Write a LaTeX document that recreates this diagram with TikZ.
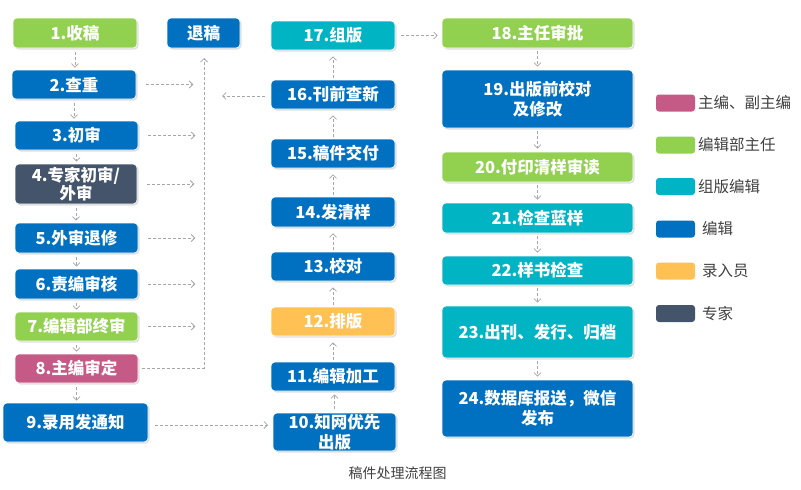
\documentclass[tikz,border=0pt]{standalone}
\usepackage{fontspec}
\setmainfont{Noto Sans CJK SC}
\usetikzlibrary{arrows.meta,shadows}
\definecolor{cgreen}{HTML}{92D050}
\definecolor{cblue}{HTML}{0070C0}
\definecolor{cteal}{HTML}{00B4C4}
\definecolor{cdark}{HTML}{44546A}
\definecolor{cpink}{HTML}{C55A86}
\definecolor{corange}{HTML}{FFC054}
\definecolor{cline}{HTML}{A6A6A6}
\definecolor{ctext}{HTML}{404040}
\tikzset{
  box/.style={rounded corners=4pt, inner sep=0pt, align=center, text=white,
    font=\fontsize{16.5}{20}\selectfont\bfseries, draw=white, line width=0.6pt,
    drop shadow={opacity=0.25, shadow xshift=1.5pt, shadow yshift=-1.5pt}},
  flow/.style={draw=cline, line width=0.8pt, dash pattern=on 3pt off 2pt,
    -{Straight Barb[length=3.5pt,width=7pt]}},
  swatch/.style={rounded corners=3pt, minimum width=39pt, minimum height=17pt, inner sep=0pt},
  legtext/.style={anchor=west, inner sep=0pt, text=ctext, font=\fontsize{15.5}{17}\selectfont},
}
\begin{document}
\begin{tikzpicture}[x=1pt,y=-1pt]
\useasboundingbox (0,0) rectangle (801,490);
% left column
\node[box, fill=cgreen, minimum width=124pt, minimum height=30pt] (n1) at (75,33) {1.收稿};
\node[box, fill=cblue, minimum width=73pt, minimum height=30pt] (tg) at (203.5,33) {退稿};
\node[box, fill=cblue, minimum width=124pt, minimum height=29pt] (n2) at (74,84.5) {2.查重};
\node[box, fill=cblue, minimum width=123pt, minimum height=29pt] (n3) at (76.5,135.5) {3.初审};
\node[box, fill=cdark, minimum width=122pt, minimum height=40pt, font=\fontsize{16.5}{18}\selectfont\bfseries] (n4) at (76,184) {4.专家初审/\\外审};
\node[box, fill=cblue, minimum width=123pt, minimum height=30pt] (n5) at (76.5,238) {5.外审退修};
\node[box, fill=cblue, minimum width=123pt, minimum height=30pt] (n6) at (76.5,284) {6.责编审核};
\node[box, fill=cgreen, minimum width=123pt, minimum height=29pt] (n7) at (76.5,326.5) {7.编辑部终审};
\node[box, fill=cpink, minimum width=123pt, minimum height=29pt] (n8) at (76.5,368.5) {8.主编审定};
\node[box, fill=cblue, minimum width=145pt, minimum height=39pt] (n9) at (75.5,422.5) {9.录用发通知};
% middle column
\node[box, fill=cblue, minimum width=123pt, minimum height=38pt] (n10) at (334.5,432) {10.知网优先\\出版};
\node[box, fill=cblue, minimum width=124pt, minimum height=29pt] (n11) at (333,376.5) {11.编辑加工};
\node[box, fill=corange, minimum width=124pt, minimum height=29pt] (n12) at (333,321.5) {12.排版};
\node[box, fill=cblue, minimum width=124pt, minimum height=29pt] (n13) at (333,266.5) {13.校对};
\node[box, fill=cblue, minimum width=124pt, minimum height=30pt] (n14) at (333,212) {14.发清样};
\node[box, fill=cblue, minimum width=124pt, minimum height=29pt] (n15) at (333,153.5) {15.稿件交付};
\node[box, fill=cblue, minimum width=124pt, minimum height=29pt] (n16) at (333,94.5) {16.刊前查新};
\node[box, fill=cteal, minimum width=124pt, minimum height=29pt] (n17) at (333,35.5) {17.组版};
% right column
\node[box, fill=cgreen, minimum width=191pt, minimum height=30pt] (n18) at (537.5,33) {18.主任审批};
\node[box, fill=cblue, minimum width=191pt, minimum height=58pt] (n19) at (537.5,99) {19.出版前校对\\及修改};
\node[box, fill=cgreen, minimum width=191pt, minimum height=30pt] (n20) at (537.5,167) {20.付印清样审读};
\node[box, fill=cteal, minimum width=191pt, minimum height=30pt] (n21) at (537.5,218) {21.检查蓝样};
\node[box, fill=cteal, minimum width=191pt, minimum height=29pt] (n22) at (537.5,270.5) {22.样书检查};
\node[box, fill=cteal, minimum width=191pt, minimum height=52pt] (n23) at (537.5,332) {23.出刊、发行、归档};
\node[box, fill=cblue, minimum width=191pt, minimum height=57pt] (n24) at (537.5,408.5) {24.数据库报送，微信\\发布};
% left column arrows down
\foreach \a/\b in {n1/n2,n2/n3,n3/n4,n4/n5,n5/n6,n6/n7,n7/n8,n8/n9}
  \draw[flow] ([yshift=-4pt]\a.south) -- ([yshift=2pt]\a.south |- \b.north);
% right column arrows down
\foreach \a/\b in {n18/n19,n19/n20,n20/n21,n21/n22,n22/n23,n23/n24}
  \draw[flow] ([yshift=-3pt]\a.south) -- ([yshift=3pt]\a.south |- \b.north);
% middle column arrows up
\draw[flow] ([yshift=4pt]n10.north) -- ([yshift=-3pt]n10.north |- n11.south);
\foreach \a/\b in {n11/n12,n12/n13,n13/n14,n14/n15,n15/n16,n16/n17}
  \draw[flow] ([yshift=2pt]\a.north) -- ([yshift=-6pt]\a.north |- \b.south);
% rejection arrows
\foreach \n in {n2,n3,n4,n5,n6,n7}
  \draw[flow] ([xshift=10pt]\n.east) -- ([xshift=57pt]\n.east);
\coordinate (up) at (204,58);
\draw[flow] ([xshift=4pt]n8.east) -| (up);
\coordinate (back) at (222,96);
\draw[flow] ([xshift=-6pt]n16.west |- back) -- (back);
\coordinate (s9) at (155,425);
\coordinate (e9) at (268,425);
\draw[flow] (s9) -- (e9);
\draw[flow] ([xshift=6pt]n17.east) -- ([xshift=-4pt]n18.west |- n17.east);
% legend
\node[swatch, fill=cpink] (l1) at (675.5,103) {};
\node[legtext] (t1) at (698,103) {主编、副主编};
\node[swatch, fill=cgreen] (l2) at (675.5,145) {};
\node[legtext] (t2) at (698,145) {编辑部主任};
\node[swatch, fill=cteal] (l3) at (675.5,186.5) {};
\node[legtext] (t3) at (698,186.5) {组版编辑};
\node[swatch, fill=cblue] (l4) at (675.5,229) {};
\node[legtext] (t4) at (702,229) {编辑};
\node[swatch, fill=corange] (l5) at (675.5,271) {};
\node[legtext] (t5) at (702,271) {录入员};
\node[swatch, fill=cdark] (l6) at (675.5,313.5) {};
\node[legtext] (t6) at (702,313.5) {专家};
% caption
\node[text=ctext, font=\fontsize{14}{16}\selectfont, inner sep=0pt] (cap) at (397.5,473) {稿件处理流程图};
\end{tikzpicture}
\end{document}
